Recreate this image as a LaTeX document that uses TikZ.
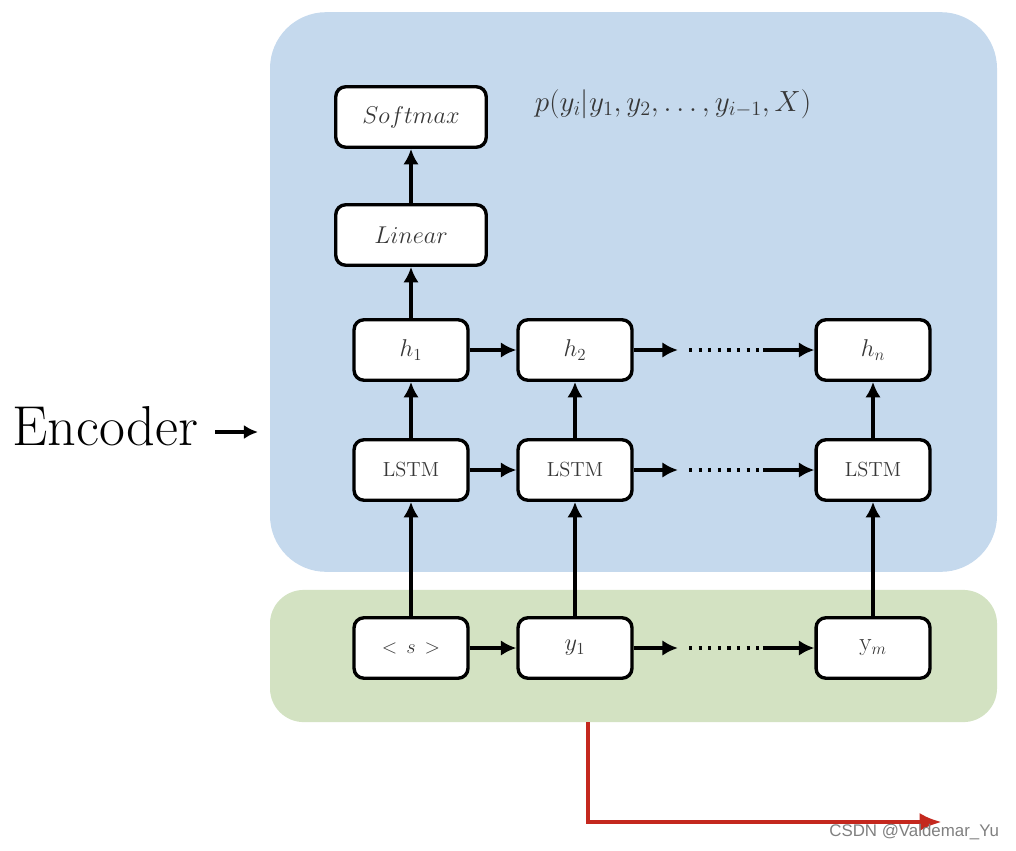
\documentclass[tikz,border=0pt]{standalone}
\usepackage{amsmath, amssymb}
\usepackage{fontspec}
\usepackage{xcolor}
\usepackage{tikz}
\usetikzlibrary{calc, arrows.meta, positioning}

\newfontfamily\wmfont{Liberation Sans}
\definecolor{encblue}{RGB}{197,217,237}
\definecolor{decgreen}{RGB}{211,226,194}
\definecolor{redline}{RGB}{196,40,30}
\definecolor{boxtext}{RGB}{55,55,55}

\begin{document}
\begin{tikzpicture}[x=0.025cm, y=-0.025cm, >={Latex[length=11pt,width=11pt]},
    cell/.style={draw, line width=2.4pt, rounded corners=7pt, fill=white,
        minimum width=81pt, minimum height=43pt, inner sep=0pt,
        text=boxtext, font=\fontsize{18}{20}\selectfont},
    widecell/.style={cell, minimum width=107pt},
    lstm/.style={cell, font=\fontsize{14.5}{16}\selectfont},
    dots/.style={minimum width=52pt, minimum height=4pt, inner sep=0pt},
    link/.style={->, line width=2.2pt}]
    \useasboundingbox (0,0) rectangle (1016,850);

    % Khung encoder va decoder
    \node[fill=encblue, rounded corners=40pt, minimum width=517pt,
        minimum height=398pt] (encbox) at (633.5,292) {};
    \node[fill=decgreen, rounded corners=24pt, minimum width=517pt,
        minimum height=94pt] (decbox) at (633.5,656) {};

    % Dau ra
    \node[widecell] (softmax) at (411,117) {$Softmax$};
    \node[widecell] (linear) at (411,235) {$Linear$};
    \node[text=boxtext, font=\fontsize{20}{22}\selectfont] (prob) at (673,104)
        {$p(y_i|y_1,y_2,\ldots,y_{i-1},X)$};

    % Hang trang thai an
    \node[cell] (h1) at (411,350) {$h_1$};
    \node[cell] (h2) at (575,350) {$h_2$};
    \node[dots] (hdots) at (726,350) {};
    \node[cell] (hn) at (873,350) {$h_n$};

    % Hang LSTM
    \node[lstm] (l1) at (411,470) {LSTM};
    \node[lstm] (l2) at (575,470) {LSTM};
    \node[dots] (ldots) at (726,470) {};
    \node[lstm] (ln) at (873,470) {LSTM};

    % Hang dau vao
    \node[cell, font=\fontsize{14}{16}\selectfont] (s0) at (411,648) {$<\,s\,>$};
    \node[cell] (y1) at (575,648) {$y_1$};
    \node[dots] (ydots) at (726,648) {};
    \node[cell] (ym) at (873,648) {$\mathrm{y}_m$};

    \foreach \d in {hdots, ldots, ydots}
        \draw[line width=3pt, dash pattern=on 2.2pt off 4.6pt] (\d.west) -- (\d.east);

    % Mui ten
    \draw[link] (linear) -- (softmax);
    \draw[link] (h1) -- (linear);
    \foreach \a/\b in {h1/h2, l1/l2, s0/y1}
        \draw[link] (\a) -- (\b);
    \foreach \a/\b in {h2/hdots, l2/ldots, y1/ydots}
        \draw[link, shorten >=8pt] (\a) -- (\b.west);
    \foreach \a/\b in {hdots/hn, ldots/ln, ydots/ym}
        \draw[link] (\a.east) -- (\b);
    \foreach \a/\b in {l1/h1, l2/h2, ln/hn, s0/l1, y1/l2, ym/ln}
        \draw[link] (\a) -- (\b);

    % Nhan Encoder
    \node[anchor=base west, inner sep=0pt, font=\fontsize{40}{44}\selectfont]
        (enc) at (12,445) {Encoder};
    \coordinate (encin) at (258,432);
    \draw[->, line width=2.6pt, >={Latex[length=10pt,width=10pt]}] ([xshift=12pt]enc.east |- encin) -- (encin);

    % Mui ten do
    \coordinate (redstart) at (588,722);
    \coordinate (redend) at (942,822);
    \draw[->, redline, line width=3.2pt, >={Latex[length=16pt,width=13pt]}] (redstart) |- (redend);

    \node[anchor=east, text=gray, font=\wmfont\fontsize{12}{14}\selectfont]
        (csdn) at (1004,832) {CSDN @Valdemar\_Yu};
\end{tikzpicture}
\end{document}
